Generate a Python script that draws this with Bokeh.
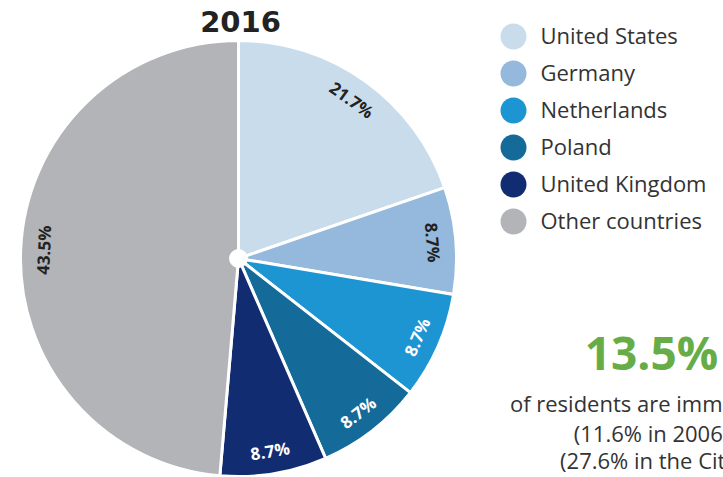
import math
from bokeh.plotting import figure
from bokeh.models import Range1d, ColumnDataSource
from bokeh.core.properties import value
from bokeh.embed import file_html
from bokeh.resources import INLINE

# ---- data ----
countries = ["United States", "Germany", "Netherlands", "Poland", "United Kingdom", "Other countries"]
# slice sizes as drawn in the reference graphic
slice_values = [21.7, 8.7, 8.7, 8.7, 8.7, 53.5]
# percentage labels as printed in the reference graphic
slice_labels = ["21.7%", "8.7%", "8.7%", "8.7%", "8.7%", "43.5%"]
colors = ["#c9dcec", "#94b9dc", "#1e95d3", "#146b9a", "#122c72", "#b3b4b8"]
label_colors = ["#222222", "#222222", "#ffffff", "#ffffff", "#ffffff", "#222222"]
title_text = "2016"
headline = "13.5%"
sub_lines = ["of residents are immigrants", "(11.6% in 2006)", "(27.6% in the City)"]

W, H = 723, 477
FONT = "Open Sans"

p = figure(width=W, height=H, output_backend="svg", toolbar_location=None,
           x_range=Range1d(0, W), y_range=Range1d(0, H),
           min_border=0, outline_line_color=None, background_fill_color="white",
           border_fill_color="white")
p.axis.visible = False
p.grid.visible = False

# pie geometry
cx, cy, R = 238, H - 258, 218
total = sum(slice_values)
starts, ends, mids = [], [], []
acc = 0.0
for s in slice_values:
    a0 = acc / total
    acc += s
    a1 = acc / total
    starts.append(math.pi / 2 - a0 * 2 * math.pi)
    ends.append(math.pi / 2 - a1 * 2 * math.pi)
    mids.append((a0 + a1) / 2 * 360.0)  # degrees clockwise from top

src = ColumnDataSource(dict(start=starts, end=ends, color=colors))
p.wedge(x=cx, y=cy, radius=R, start_angle="start", end_angle="end", direction="clock",
        fill_color="color", line_color="white", line_width=3, source=src)
p.circle(x=[cx], y=[cy], radius=9, fill_color="white", line_color="white")

# slice labels
rl = 195
lx, ly, lang = [], [], []
for m in mids:
    rad = math.radians(m)
    lx.append(cx + rl * math.sin(rad))
    ly.append(cy + rl * math.cos(rad))
    rot = -m if (m < 95 or m > 270) else 180 - m
    lang.append(math.radians(rot))
p.text(x=lx, y=ly, text=slice_labels, angle=lang, text_color=label_colors,
       text_font=value(FONT), text_font_style="bold", text_font_size="17px",
       text_align="center", text_baseline="middle")

# title
p.text(x=[240], y=[H - 21], text=[title_text], text_font=value("DejaVu Sans"),
       text_font_style="bold", text_font_size="29px", text_color="#222222",
       text_align="center", text_baseline="middle")

# legend
leg_y = [H - y for y in [36, 73, 110, 147, 184, 221]]
p.circle(x=[513] * len(countries), y=leg_y, radius=13, fill_color=colors, line_color=None)
p.text(x=[540] * len(countries), y=[y + 2 for y in leg_y], text=countries, text_font=value(FONT),
       text_font_size="22px", text_color="#333333", text_align="left", text_baseline="middle")

# headline block
p.text(x=[651], y=[H - 351], text=[headline], text_font=value(FONT), text_font_style="bold",
       text_font_size="46px", text_color="#66ad47", text_align="center", text_baseline="middle")
p.text(x=[651] * 3, y=[H - 402, H - 432, H - 459], text=sub_lines, text_font=value(FONT),
       text_font_size="22px", text_color="#333333", text_align="center", text_baseline="middle")

open("out.html", "w").write(file_html(p, INLINE))
